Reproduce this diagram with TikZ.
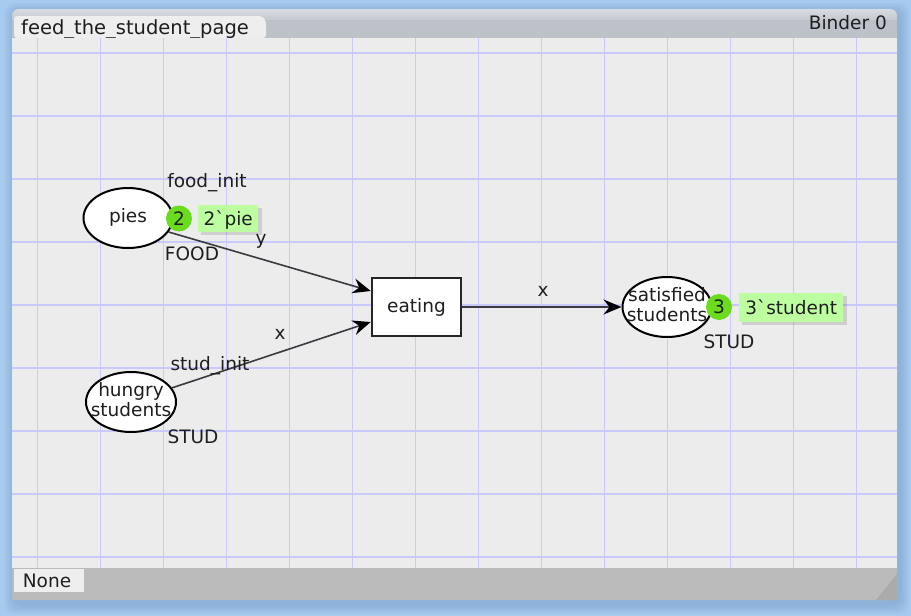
\documentclass[tikz,border=0pt]{standalone}
\usepackage{fontspec}
\setmainfont{DejaVu Sans}[Ligatures=TeXOff]
\usetikzlibrary{arrows.meta,shapes.geometric}

\definecolor{bgblue}{HTML}{A6CBEF}
\definecolor{shadowblue}{HTML}{6F93BF}
\definecolor{paneltop}{HTML}{D8DCE1}
\definecolor{panelbar}{HTML}{BDC2C8}
\definecolor{canvasgray}{HTML}{ECECEC}
\definecolor{gridblue}{HTML}{C9C9FB}
\definecolor{bottomgray}{HTML}{BBBBBB}
\definecolor{gripgray}{HTML}{ABABAB}
\definecolor{tabgray}{HTML}{EEEEEE}
\definecolor{txt}{HTML}{1E1E1E}
\definecolor{tokgreen}{HTML}{6ADB1E}
\definecolor{markgreen}{HTML}{BDFFA0}
\definecolor{arcgray}{HTML}{3A3A40}

% place names may be wider than the place itself
\newcommand{\pname}[1]{\makebox[0pt]{\begin{tabular}{@{}c@{}}#1\end{tabular}}}

\begin{document}
\begin{tikzpicture}[x=1pt,y=-1pt,
  every node/.style={font=\fontsize{18.5}{20}\selectfont, text=txt},
  place/.style={ellipse, draw=black, line width=2pt, fill=white,
    minimum width=89pt, minimum height=60pt, inner sep=0pt},
  trans/.style={rectangle, draw=black!85, line width=2.6pt, fill=white,
    minimum width=89pt, minimum height=58pt},
  token/.style={circle, fill=tokgreen, minimum size=26pt, inner sep=0pt},
  marking/.style={fill=markgreen, inner sep=0pt, minimum height=27pt,
    text depth=0pt, anchor=west},
  mshadow/.style={fill=black, opacity=0.12},
  arc/.style={draw=arcgray, line width=1.6pt,
    -{Stealth[length=18pt,width=15pt,inset=6pt,color=black]}},
  lbl/.style={inner sep=0pt},
  tab/.style={fill=tabgray, rounded corners=3pt},
]
\useasboundingbox (0,0) rectangle (911,616);

% desktop background and soft window shadow
\fill[bgblue] (0,0) rectangle (911,616);
\foreach \d in {10,8,6,4,2}
  \fill[shadowblue, opacity=0.10, rounded corners=10pt]
    (13-\d+2,9-\d+4) rectangle (897+\d+2,600+\d+4);

% window panel with its title bar
\fill[panelbar, rounded corners=7pt] (12,9) rectangle (897,600);
\shade[top color=paneltop, bottom color=panelbar, rounded corners=7pt]
  (12,9) rectangle (897,24);
\fill[panelbar] (12,20) rectangle (897,38);

% page tab and binder title
\fill[tab] (14,16) -- (262,16) -- (266,21) -- (266,38) -- (14,38) -- cycle;
\node[lbl, anchor=base west, font=\fontsize{19.5}{20}\selectfont] (pagetab) at (21,34) {feed\_the\_student\_page};
\node[lbl, anchor=base east] (binder) at (887,29) {Binder 0};

% drawing canvas with grid
\fill[canvasgray] (12,38) rectangle (897,568);
\foreach \gx in {37.5,100.5,...,860}
  \draw[gridblue, line width=1.2pt] (\gx,38) -- (\gx,568);
\foreach \gy in {53,116,...,560}
  \draw[gridblue, line width=1.2pt] (12,\gy) -- (897,\gy);

% status bar with resize grip
\fill[bottomgray] (12,568) rectangle (897,600);
\fill[gripgray] (876,600) -- (897,574) -- (897,600) -- cycle;
\fill[tabgray] (14,569) rectangle (84,592);
\node[lbl] (status) at (47,581) {None};

% net: places and transition
\node[place] (pies) at (128,218) {\pname{pies}};
\node[place, minimum width=90pt] (hungry) at (131,402) {\pname{hungry\\students}};
\node[trans] (eating) at (416.5,307) {eating};
\node[place] (satisfied) at (667,307) {\pname{satisfied\\students}};

% arcs
\draw[arc] (pies.-19) -- ([yshift=16pt]eating.west);
\draw[arc] (hungry.19) -- ([yshift=-15pt]eating.west);
\draw[arc] (eating.east) -- (satisfied.west);

% arc inscriptions
\node[lbl] (ay) at (261,241) {y};
\node[lbl] (ax1) at (280,334) {x};
\node[lbl] (ax2) at (543,291) {x};

% colour sets and initial markings
\node[lbl] (piesinit) at (207,183) {food\_init};
\node[lbl] (piestype) at (192,254) {FOOD};
\node[lbl] (hungryinit) at (210,366) {stud\_init};
\node[lbl] (hungrytype) at (193,437) {STUD};
\node[lbl] (sattype) at (729,342) {STUD};

% current markings
\node[token] (tok1) at (179,218.5) {2};
\fill[mshadow] (201,208) rectangle (262,235);
\node[marking, minimum width=60pt] (mark1) at (198,218.5) {2`pie};
\node[token] (tok2) at (719,307) {3};
\fill[mshadow] (742,296) rectangle (847,325);
\node[marking, minimum width=104pt, minimum height=29pt] (mark2) at (739,307.5) {3`student};
\end{tikzpicture}
\end{document}
